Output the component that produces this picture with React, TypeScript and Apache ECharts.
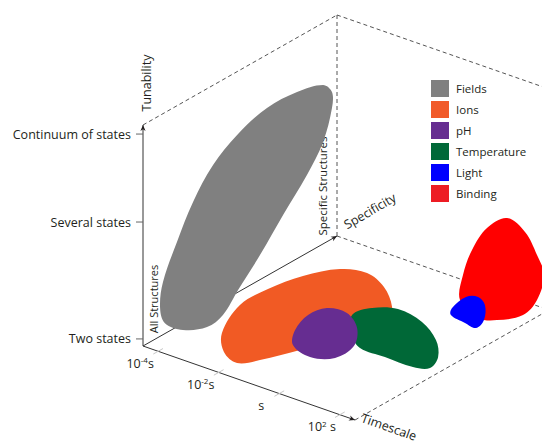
import React, { useEffect, useRef } from 'react';
import * as echarts from 'echarts';

// ---- Axis data ----
// Timescale axis: log10(seconds)
const timescaleMin = -4.5;
const timescaleMax = 2.5;
const timescaleTicks = [-4, -2, 0, 2];
const timescaleLabels = ['10{sup|-4}s', '10{sup|-2}s', 's', '10{sup|2} s'];
// Tunability axis: 0..1
const tunabilityTicks = [0.032, 0.561, 0.959];
const tunabilityLabels = ['Two states', 'Several states', 'Continuum of states'];
// Specificity axis: 0..1
const specificityLabels = ['All Structures', 'Specific Structures'];

// ---- Series ----
const seriesNames = ['Fields', 'Ions', 'pH', 'Temperature', 'Light', 'Binding'];
const seriesColors = ['#808080', '#f15a24', '#662d91', '#006837', '#0000ff', '#ff0000'];
const legendColors = ['#808080', '#f15a29', '#662d91', '#006838', '#0000ff', '#ed1c24'];

// Outlines as [log10 timescale, specificity, tunability]
const fieldsOutline = [
  [-4, 0.850, 0.782], [-4, 0.896, 0.727], [-4, 0.896, 0.655], [-4, 0.850, 0.524],
  [-4, 0.767, 0.416], [-4, 0.644, 0.296], [-4, 0.525, 0.174], [-4, 0.412, 0.072],
  [-4, 0.334, -0.002], [-4, 0.252, -0.016], [-4, 0.128, 0.033], [-4, 0.035, 0.110],
  [-4, 0.010, 0.191], [-4, 0.025, 0.301], [-4, 0.097, 0.446], [-4, 0.180, 0.586],
  [-4, 0.283, 0.702], [-4, 0.407, 0.776], [-4, 0.561, 0.822], [-4, 0.716, 0.817],
];
const ionsOutline = [
  [-3.995, 0.421, 0], [-4.0, 0.566, 0], [-3.753, 0.708, 0], [-3.249, 0.820, 0],
  [-2.553, 0.851, 0], [-1.70, 0.805, 0], [-0.817, 0.709, 0], [-0.209, 0.603, 0],
  [-0.461, 0.488, 0], [-1.147, 0.286, 0], [-1.604, 0.151, 0], [-1.966, 0.089, 0],
  [-2.628, 0.125, 0], [-3.354, 0.228, 0],
];
const phOutline = [
  [-2.109, 0.575, 0], [-1.520, 0.586, 0], [-0.775, 0.522, 0], [-0.188, 0.414, 0],
  [-0.143, 0.310, 0], [-0.690, 0.266, 0], [-1.470, 0.300, 0], [-1.970, 0.389, 0],
  [-2.245, 0.499, 0],
];
const temperatureOutline = [
  [-1.346, 0.585, 0], [-1.190, 0.664, 0], [-0.622, 0.709, 0], [0.337, 0.683, 0],
  [1.272, 0.609, 0], [1.926, 0.518, 0], [2.159, 0.440, 0], [1.775, 0.412, 0],
  [0.842, 0.413, 0], [0.007, 0.415, 0], [-0.625, 0.472, 0],
];
const lightOutline = [
  [0.335, 0.910, 0], [0.580, 0.934, 0], [1.012, 0.902, 0], [1.532, 0.816, 0],
  [1.657, 0.755, 0], [1.252, 0.762, 0], [0.677, 0.779, 0], [0.446, 0.821, 0],
];
const bindingOutline = [
  [2.394, 0.8, 0.511], [2.989, 0.8, 0.476], [3.385, 0.8, 0.391], [3.616, 0.8, 0.311],
  [3.385, 0.8, 0.187], [2.923, 0.8, 0.097], [2.064, 0.8, 0.033], [1.437, 0.8, 0.013],
  [0.842, 0.8, 0.065], [0.941, 0.8, 0.183], [1.239, 0.8, 0.311], [1.734, 0.8, 0.434],
];
const outlines = [fieldsOutline, ionsOutline, phOutline, temperatureOutline, lightOutline, bindingOutline];
const drawOrder = [0, 1, 3, 2, 5, 4];

// ---- Oblique projection (layout) ----
const ORIGIN = [143, 346];
const T_VEC = [212, 74];
const S_VEC = [194, -110];
const U_VEC = [0, -221];
function project(t: number, s: number, u: number) {
  const a = (t - timescaleMin) / (timescaleMax - timescaleMin);
  return [
    ORIGIN[0] + a * T_VEC[0] + s * S_VEC[0] + u * U_VEC[0],
    ORIGIN[1] + a * T_VEC[1] + s * S_VEC[1] + u * U_VEC[1],
  ];
}

const FONT = 'Open Sans';
const TEXT_COLOR = '#231f20';

function frameRender(_params: any, api: any) {
  const P = (t: number, s: number, u: number) => api.coord(project(t, s, u));
  const children: any[] = [];
  const line = (a: number[], b: number[], dashed: boolean, color = '#333') => {
    children.push({
      type: 'line',
      shape: { x1: a[0], y1: a[1], x2: b[0], y2: b[1] },
      style: { stroke: color, lineWidth: 1, lineDash: dashed ? [4, 3] : null },
      silent: true,
    });
  };
  const arrow = (from: number[], to: number[]) => {
    const dx = to[0] - from[0];
    const dy = to[1] - from[1];
    const len = Math.sqrt(dx * dx + dy * dy);
    const ux = dx / len, uy = dy / len;
    const nx = -uy, ny = ux;
    const L = 6, W = 2.6;
    children.push({
      type: 'polygon',
      shape: {
        points: [
          [to[0], to[1]],
          [to[0] - ux * L + nx * W, to[1] - uy * L + ny * W],
          [to[0] - ux * L * 0.7, to[1] - uy * L * 0.7],
          [to[0] - ux * L - nx * W, to[1] - uy * L - ny * W],
        ],
      },
      style: { fill: '#231f20' },
      silent: true,
    });
  };
  const text = (str: string, pos: number[], opts: any) => {
    children.push({
      type: 'text',
      x: pos[0],
      y: pos[1],
      rotation: opts.rotation || 0,
      style: {
        text: str,
        fill: TEXT_COLOR,
        fontSize: opts.fontSize || 12.5,
        fontFamily: FONT,
        align: opts.align || 'center',
        verticalAlign: 'middle',
        lineHeight: opts.lineHeight,
        rich: opts.rich,
      },
      silent: true,
    });
  };

  const O = P(timescaleMin, 0, 0);
  const Tend = P(timescaleMax, 0, 0);
  const Send = P(timescaleMin, 1, 0);
  const Uend = P(timescaleMin, 0, 1);
  const US = P(timescaleMin, 1, 1);
  const UST = P(timescaleMax, 1, 1);
  const ST = P(timescaleMax, 1, 0);

  // dashed back box
  line(Uend, US, true, '#555');
  line(US, Send, true, '#555');
  line(US, UST, true, '#555');
  line(Send, ST, true, '#555');
  line(Tend, ST, true, '#555');

  // solid axes
  line(O, Tend, false);
  line(O, Send, false);
  line(O, Uend, false);
  arrow(O, Tend);
  arrow(O, Send);
  arrow(O, Uend);

  // tunability ticks + labels
  tunabilityTicks.forEach((u, i) => {
    const p = P(timescaleMin, 0, u);
    line([p[0] - 7, p[1]], [p[0], p[1]], false, '#666');
    text(tunabilityLabels[i], [p[0] - 12, p[1]], { align: 'right' });
  });

  // timescale ticks + labels
  timescaleTicks.forEach((t, i) => {
    const a = P(t, -0.025, 0);
    const b = P(t, 0.025, 0);
    line(a, b, false, '#c8c8c8');
    const p = P(t, 0, 0);
    text(timescaleLabels[i], [p[0] - 18, p[1] + 12], {
      lineHeight: 15,
      rich: { sup: { fontSize: 8, fontFamily: FONT, fill: TEXT_COLOR, verticalAlign: 'top', lineHeight: 9 } },
    });
  });

  // axis titles
  text('Tunability', [Uend[0] + 3, Uend[1] - 42], { rotation: Math.PI / 2 });
  text('Specificity', [Send[0] + 33, Send[1] - 25], { rotation: 0.53 });
  text('Timescale', [Tend[0] + 34, Tend[1] + 7], { rotation: -0.34 });

  // specificity end labels
  text(specificityLabels[0], [O[0] + 10, O[1] - 47], { rotation: Math.PI / 2, fontSize: 11 });
  text(specificityLabels[1], [Send[0] - 15, Send[1] - 50], { rotation: Math.PI / 2, fontSize: 11.5 });

  return { type: 'group', children };
}

function blobRender(idx: number) {
  return (_params: any, api: any) => {
    const pts = outlines[idx].map((p) => api.coord(project(p[0], p[1], p[2])));
    return {
      type: 'polygon',
      shape: { points: pts, smooth: 0.35 },
      style: { fill: seriesColors[idx] },
    };
  };
}

export default function App() {
  const ref = useRef<HTMLDivElement>(null);
  useEffect(() => {
    const chart = echarts.init(ref.current as HTMLDivElement, null, { renderer: 'svg' });
    const series: any[] = [
      {
        type: 'custom',
        name: 'frame',
        coordinateSystem: 'cartesian2d',
        data: [[0, 0]],
        renderItem: frameRender,
        silent: true,
        z: 1,
      },
    ];
    drawOrder.forEach((idx, k) => {
      series.push({
        type: 'custom',
        name: seriesNames[idx],
        coordinateSystem: 'cartesian2d',
        data: [[0, 0]],
        itemStyle: { color: seriesColors[idx] },
        renderItem: blobRender(idx),
        silent: true,
        z: 2 + k,
      });
    });
    chart.setOption({
      animation: false,
      backgroundColor: '#ffffff',
      grid: { left: 0, right: 0, top: 0, bottom: 0 },
      xAxis: { type: 'value', min: 0, max: 542, show: false },
      yAxis: { type: 'value', min: 0, max: 446, inverse: true, show: false },
      legend: {
        orient: 'vertical',
        left: 431,
        top: 80,
        padding: 0,
        itemWidth: 18,
        itemHeight: 17,
        itemGap: 4,
        icon: 'rect',
        selectedMode: false,
        textStyle: { fontSize: 11.5, color: TEXT_COLOR, fontFamily: FONT, padding: [0, 0, 0, 2] },
        data: seriesNames.map((n, i) => ({ name: n, itemStyle: { color: legendColors[i] } })),
      },
      series,
    });
    return () => chart.dispose();
  }, []);
  return <div ref={ref} style={{ position: 'fixed', left: 0, top: 0, width: 542, height: 446 }} />;
}
